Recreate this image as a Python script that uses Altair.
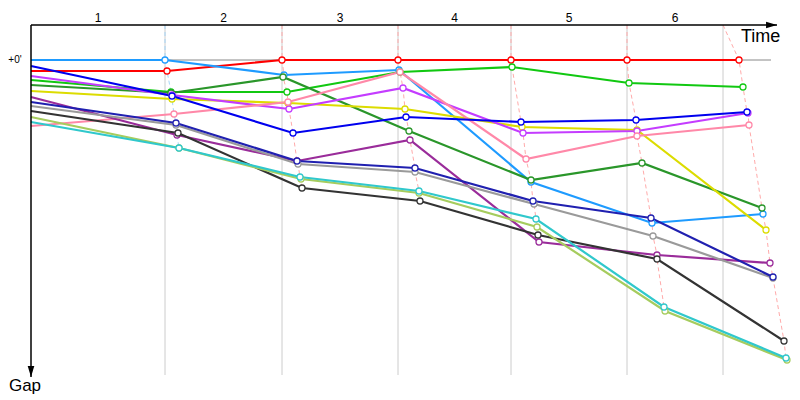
import altair as alt
import pandas as pd

# ---- data (time units, gap units; gap grows downward) ----
lap_numbers = [0, 1, 2, 3, 4, 5, 6]
lap_grid_times = [134, 251, 367, 480, 596, 692]
lap_labels = ["1", "2", "3", "4", "5", "6"]

red_t = [0, 136, 251, 367, 480, 596, 708]
red_g = [11, 11, 0, 0, 0, 0, 0]
lightblue_t = [0, 134, 253, 368, 500, 621, 732]
lightblue_g = [0, 0, 15, 10, 122, 163, 154]
blue_t = [0, 141, 262, 375, 490, 605, 716]
blue_g = [6, 36, 73, 57, 62, 60, 52]
navy_t = [0, 145, 266, 384, 502, 620, 742]
navy_g = [42, 63, 101, 108, 141, 158, 217]
green_t = [0, 140, 256, 369, 481, 598, 712]
green_g = [20, 32, 32, 12, 7, 23, 27]
darkgreen_t = [0, 140, 252, 378, 500, 611, 731]
darkgreen_g = [25, 33, 17, 71, 120, 103, 148]
yellow_t = [0, 141, 257, 374, 491, 606, 735]
yellow_g = [31, 39, 43, 49, 67, 70, 170]
violet_t = [0, 141, 258, 372, 492, 606, 717]
violet_g = [16, 35, 49, 28, 73, 71, 53]
pink_t = [0, 143, 257, 369, 495, 606, 718]
pink_g = [66, 54, 42, 12, 99, 76, 65]
purple_t = [0, 146, 266, 379, 508, 626, 739]
purple_g = [37, 75, 101, 80, 182, 195, 203]
grey_t = [0, 145, 267, 384, 503, 622, 742]
grey_g = [46, 65, 104, 112, 144, 176, 218]
black_t = [0, 147, 271, 389, 507, 626, 753]
black_g = [51, 73, 128, 141, 175, 199, 281]
yellowgreen_t = [0, 148, 270, 388, 506, 634, 756]
yellowgreen_g = [57, 88, 119, 133, 167, 251, 300]
cyan_t = [0, 148, 269, 388, 505, 633, 755]
cyan_g = [62, 88, 117, 131, 159, 247, 298]

series = {
    "red": (red_t, red_g),
    "lightblue": (lightblue_t, lightblue_g),
    "green": (green_t, green_g),
    "darkgreen": (darkgreen_t, darkgreen_g),
    "yellow": (yellow_t, yellow_g),
    "violet": (violet_t, violet_g),
    "pink": (pink_t, pink_g),
    "blue": (blue_t, blue_g),
    "purple": (purple_t, purple_g),
    "grey": (grey_t, grey_g),
    "navy": (navy_t, navy_g),
    "black": (black_t, black_g),
    "yellowgreen": (yellowgreen_t, yellowgreen_g),
    "cyan": (cyan_t, cyan_g),
}

# ---- styles ----
colors = {
    "red": "#ff0000",
    "lightblue": "#1e9bff",
    "blue": "#0000ee",
    "navy": "#2020b0",
    "green": "#11c811",
    "darkgreen": "#2a962a",
    "yellow": "#dcdc00",
    "violet": "#c43cff",
    "pink": "#ff88a8",
    "purple": "#9a2c9a",
    "grey": "#9a9a9a",
    "black": "#333333",
    "yellowgreen": "#a6cc5e",
    "cyan": "#30c8cc",
}
FONT = "Liberation Sans"
TOP_GAP = -35
BOTTOM_GAP = 315
AXIS_END_T = 746
AXIS_END_G = 317
ZERO_END_T = 740

rows = []
for car, (ts, gs) in series.items():
    for lap, t, g in zip(lap_numbers, ts, gs):
        rows.append({"car": car, "lap": lap, "t": t, "g": g, "col": colors[car]})
df = pd.DataFrame(rows)

# lap crossing (dashed) lines: from the lap grid mark at the top through every car's crossing
drows = []
for i, lap in enumerate(lap_numbers[1:]):
    sub = df[df.lap == lap]
    leader = sub.sort_values("g").iloc[0]["car"]
    dcol = "#a6d6f8" if leader == "lightblue" else "#ffaaaa"
    drows.append({"lap": lap, "t": lap_grid_times[i], "g": TOP_GAP, "dcol": dcol})
    for _, r in sub.iterrows():
        drows.append({"lap": lap, "t": float(r.t), "g": float(r.g), "dcol": dcol})
ddf = pd.DataFrame(drows)

grid_df = pd.DataFrame({"t": lap_grid_times, "g": [TOP_GAP] * 6, "g2": [BOTTOM_GAP] * 6})
bounds = [0] + lap_grid_times
label_df = pd.DataFrame({
    "t": [(bounds[i] + bounds[i + 1]) / 2 for i in range(len(lap_labels))],
    "label": lap_labels,
})
hrules = pd.DataFrame({"t": [0, 0], "t2": [ZERO_END_T, AXIS_END_T], "g": [0, TOP_GAP]})
vrule = pd.DataFrame({"t": [0], "g": [TOP_GAP], "g2": [AXIS_END_G]})
arrow_r = pd.DataFrame({"t": [AXIS_END_T], "g": [TOP_GAP]})
arrow_d = pd.DataFrame({"t": [0], "g": [AXIS_END_G]})

xs = alt.Scale(domain=[-31, 769])
ys = alt.Scale(domain=[-60, 340], reverse=True)


def X(f="t:Q"):
    return alt.X(f, scale=xs, axis=None)


def Y(f="g:Q"):
    return alt.Y(f, scale=ys, axis=None)


grid = alt.Chart(grid_df).mark_rule(color="#cccccc", strokeWidth=1).encode(
    x=X(), y=Y(), y2="g2:Q"
)
dashed = alt.Chart(ddf).mark_line(strokeDash=[4, 3], strokeWidth=1).encode(
    x=X(), y=Y(), color=alt.Color("dcol:N", scale=None), detail="lap:N", order="g:Q"
)
zero_line = alt.Chart(hrules.iloc[[0]]).mark_rule(color="#888888", strokeWidth=1).encode(
    x=X(), x2="t2:Q", y=Y()
)
lines = alt.Chart(df).mark_line(strokeWidth=2.2).encode(
    x=X(), y=Y(), color=alt.Color("col:N", scale=None), detail="car:N", order="lap:Q"
)
markers = alt.Chart(df[df.lap > 0]).mark_point(
    filled=True, fill="white", size=36, strokeWidth=1.3, opacity=1
).encode(
    x=X(), y=Y(), stroke=alt.Stroke("col:N", scale=None)
)
top_axis = alt.Chart(hrules.iloc[[1]]).mark_rule(color="black", strokeWidth=1.3).encode(
    x=X(), x2="t2:Q", y=Y()
)
left_axis = alt.Chart(vrule).mark_rule(color="black", strokeWidth=1.5).encode(
    x=X(), y=Y(), y2="g2:Q"
)
arrow_right = alt.Chart(arrow_r).mark_point(
    shape="M0,0L-1,-0.3L-1,0.3Z", filled=True, color="black", size=480, opacity=1
).encode(x=X(), y=Y())
arrow_down = alt.Chart(arrow_d).mark_point(
    shape="M0,0L-0.3,-1L0.3,-1Z", filled=True, color="black", size=480, opacity=1
).encode(x=X(), y=Y())

lap_text = alt.Chart(label_df).mark_text(font=FONT, fontSize=12, baseline="alphabetic", color="black").encode(
    x=X(), y=alt.value(22), text="label:N"
)
zero_text = alt.Chart(arrow_d).mark_text(text="+0'", font=FONT, fontSize=10, align="center", baseline="middle").encode(
    x=alt.value(15), y=alt.value(60)
)
time_text = alt.Chart(arrow_d).mark_text(text="Time", font=FONT, fontSize=18, align="left", baseline="alphabetic").encode(
    x=alt.value(741), y=alt.value(42)
)
gap_text = alt.Chart(arrow_d).mark_text(text="Gap", font=FONT, fontSize=17, align="center", baseline="alphabetic").encode(
    x=alt.value(25), y=alt.value(391)
)

chart = alt.layer(
    grid, dashed, zero_line, lines, markers, top_axis, left_axis, arrow_right, arrow_down,
    lap_text, zero_text, time_text, gap_text
).properties(
    width=800, height=400, autosize=alt.AutoSizeParams(type="none"), padding=0
).configure_view(stroke=None)

chart.save("out.html", embed_options={"renderer": "svg", "actions": False})
